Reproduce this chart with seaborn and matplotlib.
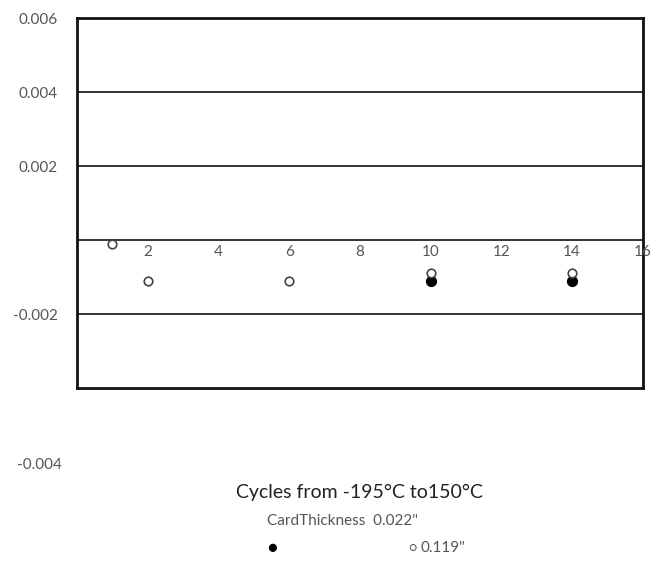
import seaborn as sns
import matplotlib.pyplot as plt
import pandas as pd

# data
cycles_thin = [10, 14]
strain_thin = [-0.0011, -0.0011]
cycles_thick = [1, 2, 6, 10, 14]
strain_thick = [-0.0001, -0.0011, -0.0011, -0.0009, -0.0009]
thickness_labels = ['0.022"', '0.119"']
x_tick_values = [2, 4, 6, 8, 10, 12, 14, 16]
y_tick_values = [0.006, 0.004, 0.002, -0.002]
y_tick_labels = ['0.006', '0.004', '0.002', '-0.002']
grid_values = [0.004, 0.002, 0.0, -0.002]

df = pd.DataFrame({
    'cycles': cycles_thin + cycles_thick,
    'strain': strain_thin + strain_thick,
    'thickness': [thickness_labels[0]] * len(cycles_thin) + [thickness_labels[1]] * len(cycles_thick),
})

sns.set_style('white')
plt.rcParams['font.family'] = ['Lato', 'DejaVu Sans']
text_color = '#555555'

fig = plt.figure(figsize=(6.52, 5.65), dpi=100)
ax = fig.add_axes([0.118, 0.313, 0.868, 0.655])

for g in grid_values:
    ax.axhline(g, color='#333333', lw=1.4, zorder=1)

thin = df[df['thickness'] == thickness_labels[0]]
thick = df[df['thickness'] == thickness_labels[1]]
sns.scatterplot(data=thin, x='cycles', y='strain', ax=ax, marker='o', s=50,
                color='black', edgecolor='black', linewidth=1, zorder=3, legend=False)
sns.scatterplot(data=thick, x='cycles', y='strain', ax=ax, marker='o', s=38,
                facecolor='white', edgecolor='#444444', linewidth=1.2, zorder=4, legend=False)

ax.set_xlim(0, 16)
ax.set_ylim(-0.004, 0.006)
ax.set_xticks([])
ax.set_yticks(y_tick_values)
ax.set_yticklabels(y_tick_labels)
ax.tick_params(axis='y', length=0, pad=14, labelsize=11, labelcolor=text_color)
ax.set_xlabel('')
ax.set_ylabel('')

# x labels sit just under the zero line
for v in x_tick_values:
    ax.text(v, -0.00012, str(v), ha='center', va='top', fontsize=11,
            color=text_color, clip_on=False)

# the stray -0.004 label below the frame
ax.text(-0.42, -0.00608, '-0.004', ha='right', va='center', fontsize=11,
        color=text_color, clip_on=False)

for side in ['left', 'right', 'top', 'bottom']:
    ax.spines[side].set_visible(True)
    ax.spines[side].set_color('#111111')
    ax.spines[side].set_linewidth(2)

fig.text(0.552, 0.128, 'Cycles from -195°C to150°C', ha='center', va='center',
         fontsize=14, color='#222222')

# legend block
fig.text(0.41, 0.078, 'CardThickness  0.022"', ha='left', va='center',
         fontsize=11, color=text_color)
fig.text(0.417, 0.03, '\u25CF', ha='center', va='center', fontsize=12, color='black')
fig.text(0.632, 0.03, '\u25CB', ha='center', va='center', fontsize=9, color=text_color)
fig.text(0.645, 0.03, thickness_labels[1], ha='left', va='center',
         fontsize=11, color=text_color)

plt.savefig('out.png', dpi=100)
